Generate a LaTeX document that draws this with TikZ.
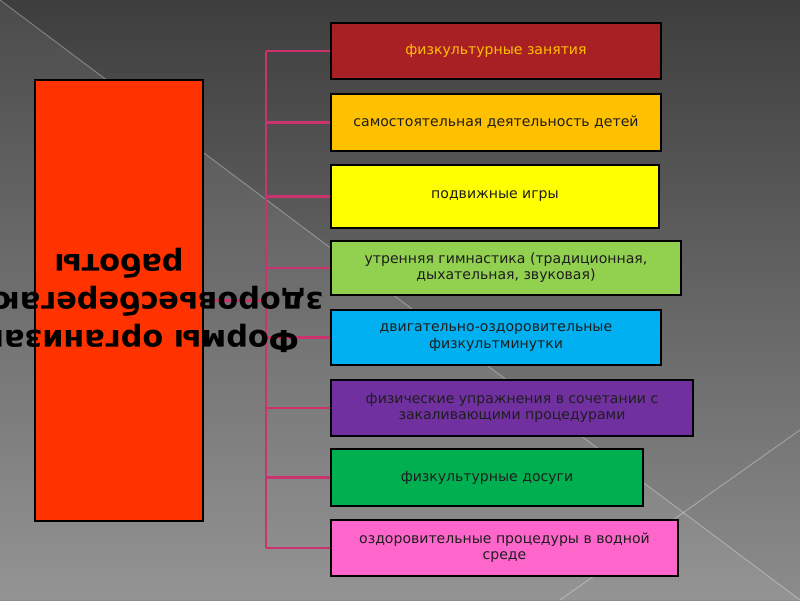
\documentclass[tikz,border=0pt]{standalone}
\usepackage{fontspec}
\setmainfont{DejaVu Sans}
\usepackage{xcolor}
\usepackage{tikz}

\definecolor{bgtop}{RGB}{62,62,62}
\definecolor{bgbottom}{RGB}{140,140,140}
\definecolor{formared}{RGB}{255,51,0}
\definecolor{linkpink}{RGB}{204,51,110}
\definecolor{textdark}{RGB}{30,30,30}
\definecolor{zanred}{RGB}{168,32,36}
\definecolor{samgold}{RGB}{255,192,0}
\definecolor{igryellow}{RGB}{255,255,0}
\definecolor{gimngreen}{RGB}{146,208,80}
\definecolor{minutcyan}{RGB}{0,176,240}
\definecolor{zakalpurple}{RGB}{112,48,160}
\definecolor{dosuggreen}{RGB}{0,176,80}
\definecolor{vodapink}{RGB}{255,102,204}

\tikzset{
  item/.style={draw=black,line width=1.4pt,anchor=west,inner sep=0pt,
    align=center,text=textdark,font=\fontsize{10}{11.5}\selectfont},
  link/.style={draw=linkpink,line width=1.6pt},
}

\begin{document}
\begin{tikzpicture}
  \useasboundingbox (0,0) rectangle (20,15);
  \clip (0,0) rectangle (20,15);
  % background
  \shade[top color=bgtop,bottom color=bgbottom] (0,0) rectangle (20,15);
  \fill[white,opacity=0.07] (0,15) -- (20,0) -- (0,0) -- cycle;
  \draw[white,opacity=0.35,line width=0.6pt] (0,15) -- (20,0);
  \draw[white,opacity=0.35,line width=0.6pt] (20,4.25) -- (14,0);

  \node[draw=black,line width=1.4pt,fill=formared,inner sep=0pt,
    minimum width=4.2cm,minimum height=11.025cm] (forma) at (2.975,7.4875) {};

  \node[item,fill=zanred,text=samgold,minimum width=8.25cm,minimum height=1.4cm]
    (zan) at (8.25,13.725) {физкультурные занятия};
  \node[item,fill=samgold,minimum width=8.25cm,minimum height=1.425cm]
    (sam) at (8.25,11.9375) {самостоятельная деятельность детей};
  \node[item,fill=igryellow,minimum width=8.2cm,minimum height=1.575cm]
    (igry) at (8.25,10.0875) {подвижные игры};
  \node[item,fill=gimngreen,minimum width=8.75cm,minimum height=1.35cm]
    (gimn) at (8.25,8.3) {утренняя гимнастика (традиционная,\\дыхательная, звуковая)};
  \node[item,fill=minutcyan,minimum width=8.25cm,minimum height=1.375cm]
    (minut) at (8.25,6.5625) {двигательно-оздоровительные\\физкультминутки};
  \node[item,fill=zakalpurple,minimum width=9.05cm,minimum height=1.4cm]
    (zakal) at (8.25,4.8) {физические упражнения в сочетании с\\закаливающими процедурами};
  \node[item,fill=dosuggreen,minimum width=7.8cm,minimum height=1.425cm]
    (dosug) at (8.25,3.0625) {физкультурные досуги};
  \node[item,fill=vodapink,minimum width=8.675cm,minimum height=1.4cm]
    (voda) at (8.25,1.3) {оздоровительные процедуры в водной\\среде};

  \coordinate (spinetop) at (6.65,13.725);
  \coordinate (spinebot) at (6.65,1.3);
  \draw[link] (spinetop) -- (spinebot);
  \draw[link] (forma.east) -- (forma.east -| spinetop);
  \draw[link] (zan.west) -- (zan.west -| spinetop);
  \draw[link] (sam.west) -- (sam.west -| spinetop);
  \draw[link] (igry.west) -- (igry.west -| spinetop);
  \draw[link] (gimn.west) -- (gimn.west -| spinetop);
  \draw[link] (minut.west) -- (minut.west -| spinetop);
  \draw[link] (zakal.west) -- (zakal.west -| spinetop);
  \draw[link] (dosug.west) -- (dosug.west -| spinetop);
  \draw[link] (voda.west) -- (voda.west -| spinetop);

  \node[rotate=180,align=center,font=\fontsize{21.6}{27}\selectfont\bfseries]
    (formatext) at (forma.center) {Формы организации\\здоровьесберегающей\\работы};
\end{tikzpicture}
\end{document}
